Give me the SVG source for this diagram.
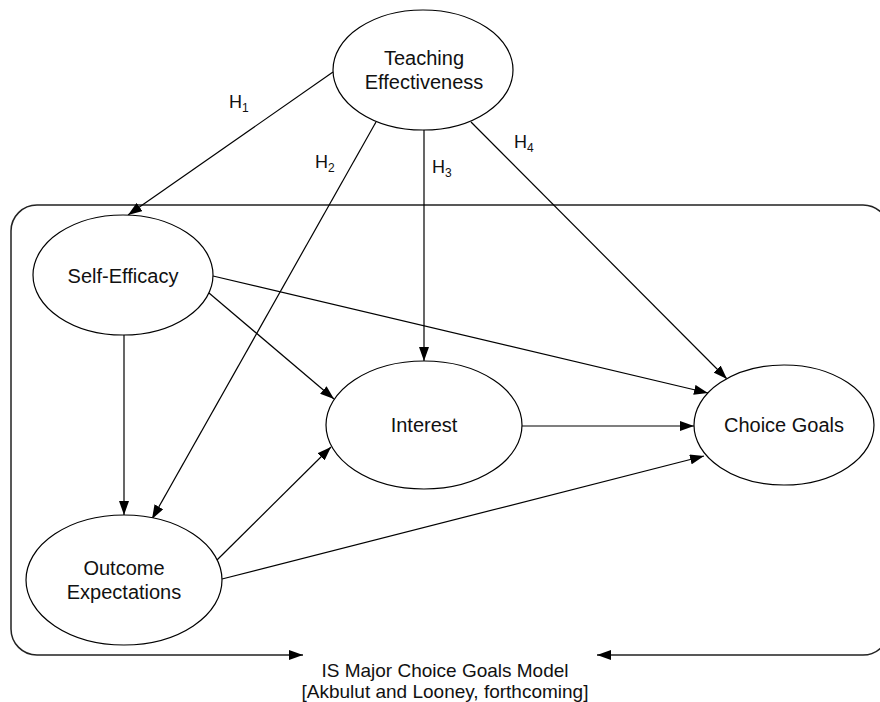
<svg xmlns="http://www.w3.org/2000/svg" width="880" height="702" viewBox="0 0 880 702">
<style>
.n{fill:#fff;stroke:#000;stroke-width:1.2}
.t{font-family:"Liberation Sans",Arial,sans-serif;font-size:20px;fill:#111;text-anchor:middle}
.h{font-family:"Liberation Sans",Arial,sans-serif;font-size:18px;fill:#111}
.s{font-size:12px}
.e{fill:none;stroke:#000;stroke-width:1.2;marker-end:url(#a)}
.b{fill:none;stroke:#222;stroke-width:1.5;marker-end:url(#a)}
</style>
<defs>
<marker id="a" markerUnits="userSpaceOnUse" markerWidth="14" markerHeight="10" viewBox="0 0 14 10" refX="14" refY="5" orient="auto">
<path d="M0,0 L14,5 L0,10 Z" fill="#000"/>
</marker>
</defs>
<g id="boundary">
<path class="b" d="M450 205 H37 A26 26 0 0 0 11 231 V629 A26 26 0 0 0 37 655 H303"/>
<path class="b" d="M450 205 H863 A26 26 0 0 1 889 231 V629 A26 26 0 0 1 863 655 H597"/>
</g>
<g id="connectors">
<path class="e" d="M333 72 L128 215"/>
<path class="e" d="M376 122 L152 519"/>
<path class="e" d="M424 130 L424 361"/>
<path class="e" d="M471 122 L727 379"/>
<path class="e" d="M124 335 L124 515"/>
<path class="e" d="M209 293 L334 399"/>
<path class="e" d="M213 276 L708 393"/>
<path class="e" d="M522 426 L694 426"/>
<path class="e" d="M217 560 L331 447"/>
<path class="e" d="M222 579 L704 456"/>
</g>
<g id="labels">
<text class="h" x="229" y="108">H<tspan class="s" dy="4">1</tspan></text>
<text class="h" x="315" y="168">H<tspan class="s" dy="4">2</tspan></text>
<text class="h" x="432" y="173">H<tspan class="s" dy="4">3</tspan></text>
<text class="h" x="514" y="148">H<tspan class="s" dy="4">4</tspan></text>
</g>
<g id="teaching">
<ellipse class="n" cx="423" cy="70" rx="90" ry="60"/>
<text class="t" x="424" y="65">Teaching</text>
<text class="t" x="424" y="89">Effectiveness</text>
</g>
<g id="selfefficacy">
<ellipse class="n" cx="123" cy="275" rx="90" ry="60"/>
<text class="t" x="123" y="283">Self-Efficacy</text>
</g>
<g id="outcome">
<ellipse class="n" cx="124" cy="580" rx="98" ry="65"/>
<text class="t" x="124" y="575">Outcome</text>
<text class="t" x="124" y="599">Expectations</text>
</g>
<g id="interest">
<ellipse class="n" cx="424" cy="425" rx="98" ry="64"/>
<text class="t" x="424" y="432">Interest</text>
</g>
<g id="choice">
<ellipse class="n" cx="784" cy="425" rx="90" ry="60"/>
<text class="t" x="784" y="432">Choice Goals</text>
</g>
<g id="caption">
<text class="t" x="445" y="677" style="font-size:19px">IS Major Choice Goals Model</text>
<text class="t" x="445" y="698" style="font-size:19px">[Akbulut and Looney, forthcoming]</text>
</g>
</svg>
